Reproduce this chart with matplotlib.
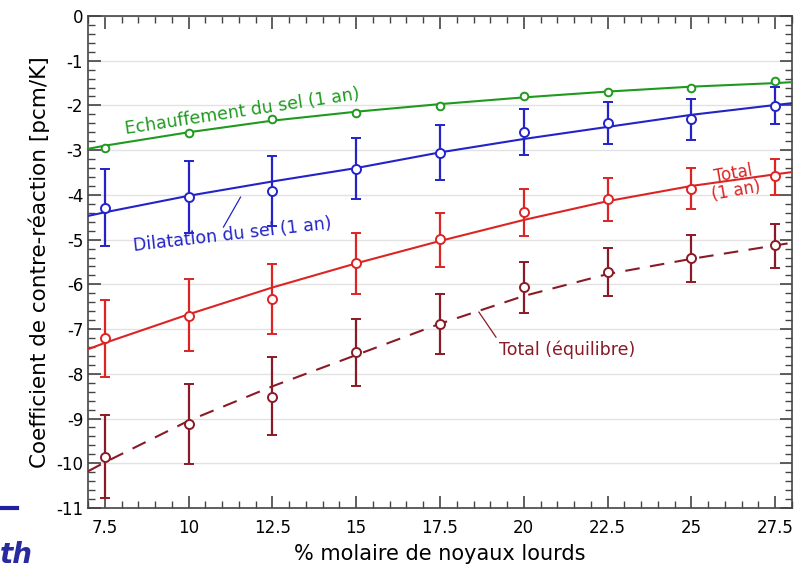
import numpy as np
import matplotlib
matplotlib.use('Agg')
import matplotlib.pyplot as plt
from matplotlib.ticker import MultipleLocator

# ── Data: feedback coefficients vs heavy-nuclei molar fraction ───────────────
x_pts = [7.5, 10, 12.5, 15, 17.5, 20, 22.5, 25, 27.5]

# salt heating (1 year) - no error bars
heat_y = [-2.95, -2.62, -2.31, -2.17, -2.01, -1.79, -1.70, -1.61, -1.45]

# salt dilatation (1 year)
dil_y  = [-4.30, -4.05, -3.91, -3.42, -3.06, -2.60, -2.39, -2.30, -2.01]
dil_hi = [-3.42, -3.24, -3.13, -2.73, -2.44, -2.08, -1.92, -1.86, -1.59]
dil_lo = [-5.15, -4.85, -4.70, -4.10, -3.67, -3.11, -2.86, -2.77, -2.42]

# total (1 year)
tot_y  = [-7.20, -6.71, -6.33, -5.53, -4.99, -4.38, -4.10, -3.87, -3.58]
tot_hi = [-6.35, -5.88, -5.55, -4.85, -4.40, -3.87, -3.62, -3.40, -3.19]
tot_lo = [-8.07, -7.49, -7.11, -6.22, -5.62, -4.92, -4.58, -4.32, -4.00]

# total (equilibrium)
eq_y  = [-9.87, -9.13, -8.52, -7.52, -6.89, -6.07, -5.73, -5.41, -5.12]
eq_hi = [-8.93, -8.23, -7.63, -6.78, -6.22, -5.50, -5.19, -4.90, -4.65]
eq_lo = [-10.78, -10.02, -9.37, -8.28, -7.56, -6.64, -6.26, -5.95, -5.64]

# fitted trend curves
fit_x     = [7, 7.5, 10, 12.5, 15, 17.5, 20, 22.5, 25, 27.5, 28]
heat_fit  = [-2.97, -2.90, -2.60, -2.34, -2.14, -1.97, -1.82, -1.69, -1.58, -1.50, -1.48]
dil_fit   = [-4.47, -4.39, -4.02, -3.70, -3.40, -3.05, -2.75, -2.48, -2.21, -1.99, -1.95]
tot_fit   = [-7.45, -7.31, -6.67, -6.07, -5.53, -5.03, -4.56, -4.14, -3.80, -3.54, -3.49]
eq_fit    = [-10.18, -9.98, -9.05, -8.28, -7.58, -6.88, -6.26, -5.77, -5.43, -5.13, -5.07]

x_ticks  = [7.5, 10, 12.5, 15, 17.5, 20, 22.5, 25, 27.5]
x_labels = ['7.5', '10', '12.5', '15', '17.5', '20', '22.5', '25', '27.5']

GREEN = '#1f9a1f'
BLUE  = '#2323c8'
RED   = '#dc2424'
DRED  = '#8a1a26'

plt.rcParams['font.family'] = ['DejaVu Sans']
plt.rcParams['axes.unicode_minus'] = False

fig = plt.figure(figsize=(7.95, 5.77), dpi=100)
ax = fig.add_axes([0.1107, 0.1196, 0.8855, 0.8527])


def err_series(ax, y, hi, lo, color):
    y = np.array(y)
    yerr = [y - np.array(lo), np.array(hi) - y]
    ax.errorbar(x_pts, y, yerr=yerr, fmt='o', color=color, mfc='white',
                mec=color, ms=6.5, mew=1.4, elinewidth=1.6, capsize=3.6,
                capthick=1.6, zorder=4)


# fit curves
ax.plot(fit_x, heat_fit, color=GREEN, lw=1.5, zorder=3)
ax.plot(fit_x, dil_fit, color=BLUE, lw=1.5, zorder=3)
ax.plot(fit_x, tot_fit, color=RED, lw=1.5, zorder=3)
ax.plot(fit_x, eq_fit, color=DRED, lw=1.5, ls=(0, (7, 5)), zorder=3)

# points with error bars
ax.plot(x_pts, heat_y, 'o', color=GREEN, mfc='white', mec=GREEN, ms=5.5,
        mew=1.4, zorder=4)
err_series(ax, dil_y, dil_hi, dil_lo, BLUE)
err_series(ax, tot_y, tot_hi, tot_lo, RED)
err_series(ax, eq_y, eq_hi, eq_lo, DRED)

# curve labels
ax.text(11.6, -2.13, 'Echauffement du sel (1 an)', color=GREEN, fontsize=12.5,
        rotation=8.5, ha='center', va='center')
ax.text(11.3, -4.88, 'Dilatation du sel (1 an)', color=BLUE, fontsize=12.5,
        rotation=6.5, ha='center', va='center')
ax.plot([11.04, 11.55], [-4.72, -4.05], color=BLUE, lw=0.9)
ax.text(26.3, -3.72, 'Total\n(1 an)', color=RED, fontsize=12, rotation=10,
        ha='center', va='center', linespacing=1.0)
ax.text(21.3, -7.47, 'Total (équilibre)', color=DRED, fontsize=12.5,
        ha='center', va='center')
ax.plot([18.66, 19.17], [-6.62, -7.18], color=DRED, lw=0.9)

# axes, ticks, grid
ax.set_xlim(7, 28)
ax.set_ylim(-11, 0)
ax.xaxis.set_minor_locator(MultipleLocator(0.5))
ax.yaxis.set_major_locator(MultipleLocator(1))
ax.yaxis.set_minor_locator(MultipleLocator(0.2))
ax.set_xticks(x_ticks)
ax.set_xticklabels(x_labels)
ax.tick_params(which='both', direction='in', top=True, right=True,
               color='#444444', labelsize=12)
ax.tick_params(which='major', length=9, width=1.2)
ax.tick_params(which='minor', length=5, width=1.0)
ax.tick_params(axis='x', pad=8)
ax.grid(axis='y', which='major', color='#e2e2e2', lw=1.0, zorder=0)
for s in ax.spines.values():
    s.set_color('#444444')
    s.set_linewidth(1.2)

ax.set_xlabel('% molaire de noyaux lourds', fontsize=15, labelpad=5)
ax.set_ylabel('Coefficient de contre-réaction [pcm/K]', fontsize=15.5,
              labelpad=4)

# slide fragment at lower left
fig.add_artist(plt.Line2D([0, 0.022], [0.119, 0.119], color='#2020a0',
                          lw=3, transform=fig.transFigure))
fig.text(0.0, 0.038, 'th', color='#2a2aa0', fontsize=20, fontweight='bold',
         fontstyle='italic', ha='left', va='center')

fig.savefig('out.png', dpi=100)
